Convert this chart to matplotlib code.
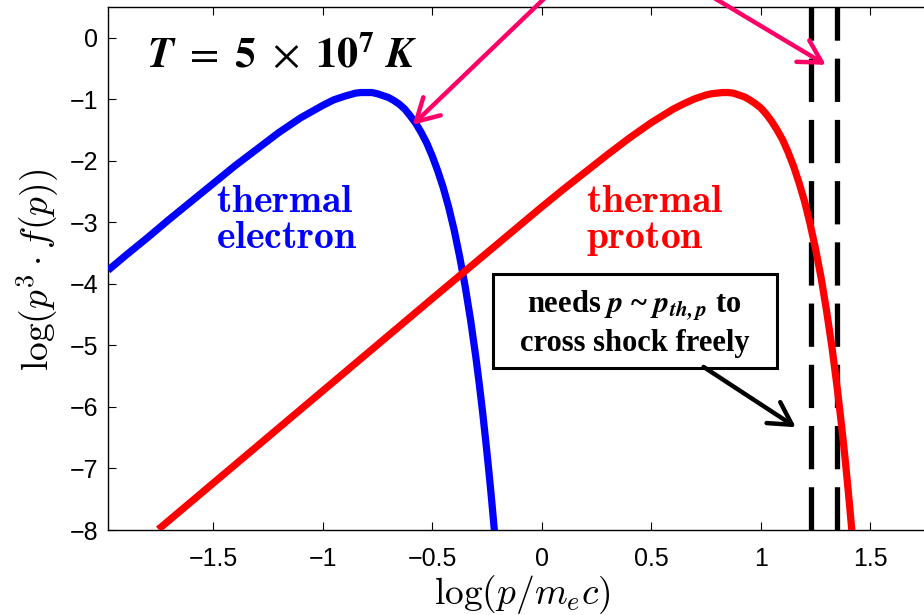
import matplotlib
matplotlib.use("Agg")
import matplotlib.pyplot as plt
from matplotlib.patches import Rectangle
from matplotlib.ticker import FuncFormatter

plt.rcParams["font.family"] = ["Liberation Sans", "DejaVu Sans"]
plt.rcParams["mathtext.fontset"] = "cm"

# thermal electron: log(p/mec) vs log(p^3 f(p))
electron_x = [-1.98, -1.9, -1.8, -1.7, -1.6, -1.5, -1.4, -1.3, -1.2, -1.1,
              -1.0, -0.95, -0.9, -0.85, -0.825, -0.8, -0.775, -0.75, -0.7,
              -0.675, -0.65, -0.625, -0.6, -0.575, -0.55, -0.525, -0.5,
              -0.475, -0.45, -0.425, -0.4, -0.375, -0.35, -0.325, -0.3,
              -0.285, -0.27, -0.255, -0.24, -0.23, -0.216]
electron_y = [-3.78, -3.54, -3.25, -2.95, -2.66, -2.37, -2.08, -1.81, -1.54,
              -1.30, -1.10, -1.01, -0.95, -0.90, -0.89, -0.89, -0.89, -0.91,
              -0.97, -1.02, -1.08, -1.16, -1.27, -1.39, -1.54, -1.71, -1.92,
              -2.16, -2.43, -2.75, -3.12, -3.55, -4.03, -4.58, -5.21,
              -5.63, -6.08, -6.57, -7.09, -7.46, -8.01]

# thermal proton
proton_x = [-1.75, -1.0, -0.5, 0.0, 0.1, 0.2, 0.3, 0.4, 0.5, 0.55, 0.6, 0.65,
            0.7, 0.75, 0.775, 0.8, 0.825, 0.85, 0.875, 0.9, 0.925, 0.95,
            0.975, 1.0, 1.025, 1.05, 1.075, 1.1, 1.125, 1.15, 1.175, 1.2,
            1.225, 1.25, 1.275, 1.3, 1.325, 1.35, 1.365, 1.38, 1.39, 1.4,
            1.408, 1.417]
proton_y = [-7.99, -5.74, -4.24, -2.75, -2.46, -2.18, -1.90, -1.63, -1.38,
            -1.27, -1.16, -1.07, -0.99, -0.93, -0.91, -0.90, -0.89, -0.89,
            -0.90, -0.93, -0.96, -1.01, -1.07, -1.14, -1.24, -1.36, -1.50,
            -1.66, -1.86, -2.09, -2.36, -2.66, -3.02, -3.43, -3.89, -4.43,
            -5.03, -5.72, -6.18, -6.67, -7.02, -7.39, -7.70, -8.06]

# dashed markers for p ~ p_th,p
shock_lines = [1.23, 1.35]

x_ticks = [-1.5, -1, -0.5, 0, 0.5, 1, 1.5]
y_ticks = [0, -1, -2, -3, -4, -5, -6, -7, -8]

PINK = "#ff0066"

fig = plt.figure(figsize=(9.24, 6.15), dpi=100)
# axes runs slightly past the right edge of the figure (cropped slide)
ax = fig.add_axes([108 / 924, 85 / 615, 828 / 924, 523 / 615])

for xv in shock_lines:
    ax.axvline(xv, color="black", lw=3.8, linestyle=(0, (8.2, 3.4)), zorder=2)

ax.plot(electron_x, electron_y, color="#0000ff", lw=5.2, zorder=3,
        solid_capstyle="butt", solid_joinstyle="round")
ax.plot(proton_x, proton_y, color="#ff0000", lw=5.2, zorder=3,
        solid_capstyle="butt", solid_joinstyle="round")

ax.set_xlim(-1.98, 1.8)
ax.set_ylim(-8, 0.5)
ax.set_xticks(x_ticks)
ax.set_yticks(y_ticks)
fmt = FuncFormatter(lambda v, _: f"{v:g}".replace("-", "\u2212"))
ax.xaxis.set_major_formatter(fmt)
ax.yaxis.set_major_formatter(fmt)
ax.tick_params(direction="in", length=6, width=0.8, top=True, right=True,
               labelsize=18)
ax.tick_params(axis="x", pad=12)
ax.tick_params(axis="y", pad=7)
for sp in ax.spines.values():
    sp.set_linewidth(1.0)

ax.set_xlabel(r"$\log(p/m_ec)$", fontsize=27, labelpad=2)
fig.text(38 / 924, 1 - 270 / 615, r"$\log(p^3\cdot f(p))$", fontsize=27,
         rotation=90, ha="center", va="center")

# temperature label
ax.text(-1.80, -0.47,
        r"$\mathbfit{T}\ =\ \mathbf{5}\ \times\ \mathbf{10}^{\mathbf{7}}\ \mathbfit{K}$",
        fontsize=30.5, math_fontfamily="stix", ha="left", va="baseline")

# curve labels
ax.text(-1.487, -2.83, r"$\mathbf{thermal}$", color="#0000ff", fontsize=28.5,
        ha="left", va="baseline")
ax.text(-1.487, -3.41, r"$\mathbf{electron}$", color="#0000ff", fontsize=28.5,
        ha="left", va="baseline")
ax.text(0.2, -2.83, r"$\mathbf{thermal}$", color="#ff0000", fontsize=28.5,
        ha="left", va="baseline")
ax.text(0.2, -3.41, r"$\mathbf{proton}$", color="#ff0000", fontsize=28.5,
        ha="left", va="baseline")

# note box
ax.add_patch(Rectangle((-0.223, -5.366), 1.296, 1.529, facecolor="white",
                       edgecolor="black", lw=2.2, zorder=4))
ax.text(0.425, -4.47, r"needs $\mathbfit{p}$ ~ $\mathbfit{p}_{\mathbfit{th,p}}$ to",
        family="Liberation Serif", fontweight="bold", fontsize=22,
        math_fontfamily="stix", ha="center", va="baseline", zorder=5)
ax.text(0.425, -5.09, "cross shock freely", family="Liberation Serif",
        fontweight="bold", fontsize=22, ha="center", va="baseline", zorder=5)

# arrows
head = "->,head_length=0.8,head_width=0.45"
ax.annotate("", xy=(-0.589, -1.415), xytext=(0.29, 1.59),
            arrowprops=dict(arrowstyle=head, color=PINK, lw=3.2,
                            mutation_scale=20, shrinkA=0, shrinkB=0),
            annotation_clip=False, zorder=6)
ax.annotate("", xy=(1.297, -0.44), xytext=(0.345, 1.59),
            arrowprops=dict(arrowstyle=head, color=PINK, lw=3.2,
                            mutation_scale=20, shrinkA=0, shrinkB=0),
            annotation_clip=False, zorder=6)
ax.annotate("", xy=(1.16, -6.33), xytext=(0.739, -5.35),
            arrowprops=dict(arrowstyle=head, color="black", lw=3.2,
                            mutation_scale=20, shrinkA=0, shrinkB=0),
            annotation_clip=False, zorder=6)

fig.savefig("out.png", dpi=100)
